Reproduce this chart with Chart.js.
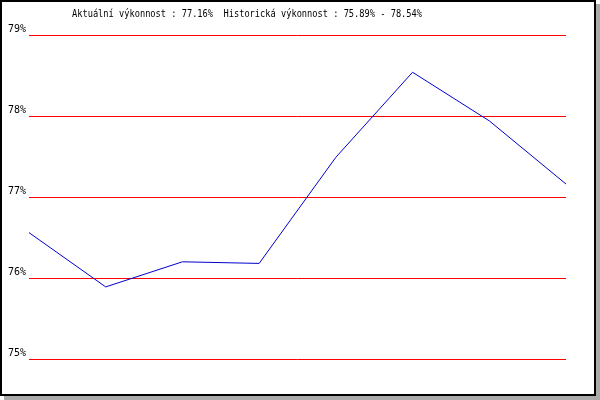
<!DOCTYPE html>
<html>
<head>
<meta charset="utf-8">
<script src="https://cdn.jsdelivr.net/npm/chart.js@4/dist/chart.umd.min.js"></script>
<style>
  body { margin: 0; background: #fff; }
  #box {
    position: absolute; left: 0; top: 0;
    width: 592px; height: 392px;
    border: 2px solid #000;
    box-shadow: 4px 4px 0 #aaa;
    background: #fff;
  }
  canvas { display: block; }
</style>
</head>
<body>
<div id="box"><canvas id="myChart" width="592" height="392"></canvas></div>
<script>
// data
let labels = ['1', '2', '3', '4', '5', '6', '7', '8'];
let values = [76.56, 75.89, 76.20, 76.18, 77.49, 78.54, 77.94, 77.16];
let yTicks = [75, 76, 77, 78, 79];
let titleText = 'Aktuální výkonnost : 77.16%  Historická výkonnost : 75.89% - 78.54%';

// title drawn at the top, squeezed a little like the original
let titlePlugin = {
  id: 'topTitle',
  afterDraw(chart) {
    let ctx = chart.ctx;
    ctx.save();
    ctx.font = '11px "DejaVu Sans Mono"';
    ctx.fillStyle = '#000';
    ctx.textBaseline = 'alphabetic';
    ctx.fillText(titleText, 70, 15, 350);
    ctx.restore();
  }
};

let ctx = document.getElementById('myChart').getContext('2d');

new Chart(ctx, {
  type: 'line',
  data: {
    labels: labels,
    datasets: [{
      data: values,
      borderColor: '#0000cc',
      borderWidth: 1,
      pointRadius: 0,
      tension: 0,
      fill: false
    }]
  },
  options: {
    responsive: false,
    animation: false,
    layout: { padding: { left: 0, right: 28, top: 33, bottom: 35 } },
    plugins: {
      legend: { display: false },
      tooltip: { enabled: false }
    },
    scales: {
      x: { display: false, offset: false },
      y: {
        min: yTicks[0],
        max: yTicks[yTicks.length - 1],
        afterFit(scale) { scale.width = 27; },
        afterBuildTicks(scale) { scale.ticks = yTicks.map(v => ({ value: v })); },
        border: { display: false },
        grid: { color: 'red', lineWidth: 1, drawTicks: false },
        ticks: {
          color: '#000',
          padding: 3,
          labelOffset: -6,
          font: { family: 'DejaVu Sans Mono', size: 10 },
          callback: v => v + '%'
        }
      }
    }
  },
  plugins: [titlePlugin]
});
</script>
</body>
</html>
